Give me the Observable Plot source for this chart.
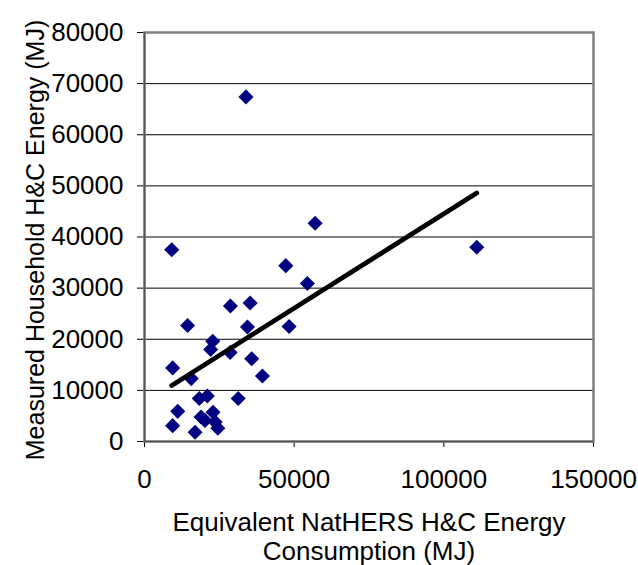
<!DOCTYPE html>
<html>
<head>
<meta charset="utf-8">
<script src="https://cdn.jsdelivr.net/npm/d3@7"></script>
<script src="https://cdn.jsdelivr.net/npm/@observablehq/plot@0.6"></script>
<style>
  html, body { margin: 0; padding: 0; background: #fff; }
  #chart { width: 638px; height: 565px; }
</style>
</head>
<body>
<div id="chart"></div>
<script>
// Equivalent NatHERS H&C energy consumption (MJ)
const nathers = [9400, 16900, 11100, 18900, 18300, 21000, 22900, 20200, 23600, 24500,
  31300, 9400, 15600, 14400, 22800, 22100, 28600, 28700, 35300, 34400,
  35800, 39400, 48300, 33900, 9100, 57000, 47200, 54400, 111000];
// Measured household H&C energy (MJ)
const measured = [3100, 1800, 5900, 4800, 8400, 8900, 5700, 4100, 3800, 2600,
  8400, 14400, 12300, 22700, 19600, 18000, 17400, 26500, 27100, 22400,
  16200, 12800, 22500, 67400, 37500, 42700, 34400, 30900, 38000];

const xTicks = [0, 50000, 100000, 150000];
const yTicks = [0, 10000, 20000, 30000, 40000, 50000, 60000, 70000, 80000];
const xTitle = "Equivalent NatHERS H&C Energy\nConsumption (MJ)";
const yTitle = "Measured Household H&C Energy (MJ)";

const data = nathers.map((x, i) => ({x, y: measured[i]}));

const chart = Plot.plot({
  width: 638,
  height: 565,
  marginLeft: 144,
  marginRight: 45,
  marginTop: 32,
  marginBottom: 124,
  style: {fontFamily: "'Liberation Sans', Arial, sans-serif", fontSize: "26px", color: "black", background: "white"},
  x: {domain: [0, 150000], ticks: xTicks, tickFormat: d => String(d), tickSize: 6, tickPadding: 22, label: null},
  y: {domain: [0, 80000], ticks: yTicks, tickFormat: d => String(d), tickSize: 7, tickPadding: 14, label: null},
  marks: [
    Plot.ruleY(yTicks, {stroke: "black", strokeWidth: 1}),
    Plot.frame({stroke: "#808080", strokeWidth: 2.5}),
    Plot.ruleX([0], {stroke: "#555", strokeWidth: 1.5}),
    Plot.ruleY([0], {stroke: "#555", strokeWidth: 1.5}),
    Plot.dot(data, {x: "x", y: "y", symbol: "diamond2", r: 6.8, fill: "#000080", stroke: "none"}),
    Plot.linearRegressionY(data, {x: "x", y: "y", ci: 0, stroke: "black", strokeWidth: 4.8, strokeLinecap: "round"}),
    Plot.text([xTitle], {frameAnchor: "bottom", lineAnchor: "middle", textAnchor: "middle", dy: 95, text: d => d, lineHeight: 1.1, fontSize: 26, fill: "black"}),
    Plot.text([yTitle], {frameAnchor: "left", lineAnchor: "middle", textAnchor: "middle", dx: -109, dy: 3, rotate: -90, text: d => d, fontSize: 25, fill: "black"})
  ]
});
document.getElementById("chart").appendChild(chart);
</script>
</body>
</html>
